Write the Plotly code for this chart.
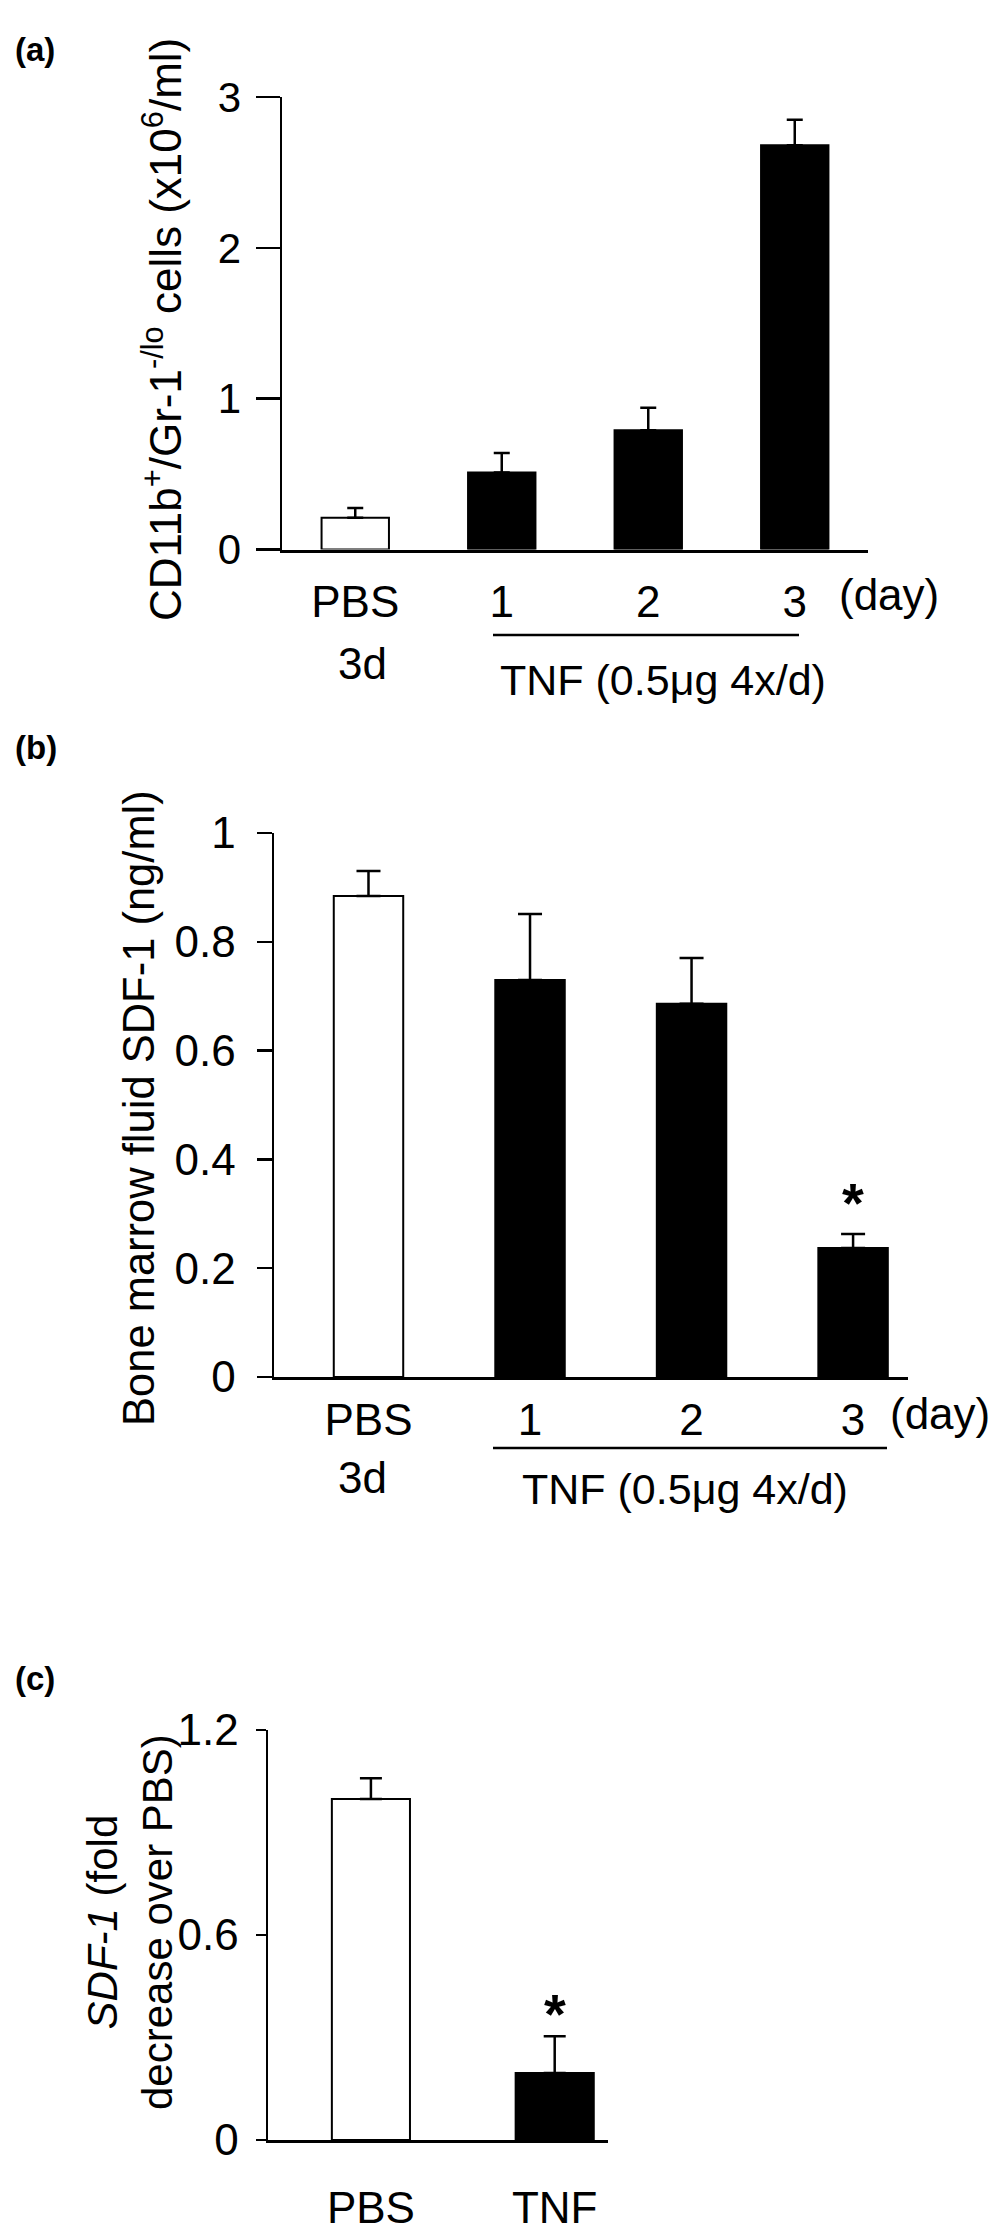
import plotly.graph_objects as go

W, H = 1004, 2236

# ---------------- data ----------------
a_categories = ["PBS", "1", "2", "3"]
a_values = [0.21, 0.51, 0.79, 2.68]
a_errors = [0.065, 0.13, 0.15, 0.17]
a_yticks = [0, 1, 2, 3]
a_yticklabels = ["0", "1", "2", "3"]

b_categories = ["PBS", "1", "2", "3"]
b_values = [0.884, 0.730, 0.686, 0.237]
b_errors = [0.046, 0.121, 0.084, 0.026]
b_significant = [False, False, False, True]
b_yticks = [0, 0.2, 0.4, 0.6, 0.8, 1]
b_yticklabels = ["0", "0.2", "0.4", "0.6", "0.8", "1"]

c_categories = ["PBS", "TNF"]
c_values = [0.998, 0.196]
c_errors = [0.061, 0.108]
c_significant = [False, True]
c_yticks = [0, 0.6, 1.2]
c_yticklabels = ["0", "0.6", "1.2"]

control = "PBS"

FONT = "Liberation Sans, Arial, Helvetica, sans-serif"


def px(x):
    return x / W


def py(y):
    return 1 - y / H


def fills(cats):
    return ["white" if c == control else "black" for c in cats]


fig = go.Figure()

panels = [
    ("x", "y", a_categories, a_values, a_errors, 0.46, 8),
    ("x2", "y2", b_categories, b_values, b_errors, 0.43, 12),
    ("x3", "y3", c_categories, c_values, c_errors, 0.425, 11),
]
for xa, ya, cats, vals, errs, bw, capw in panels:
    fig.add_trace(go.Bar(
        x=cats, y=vals, xaxis=xa, yaxis=ya, width=bw,
        marker=dict(color=fills(cats), line=dict(color="black", width=2)),
        error_y=dict(type="data", array=errs, arrayminus=[0] * len(errs),
                     symmetric=False, color="black", thickness=2.5, width=capw),
        showlegend=False, hoverinfo="skip",
    ))

common_x = dict(type="category", showline=True, linecolor="black",
                ticks="", showgrid=False, zeroline=False, automargin=False,
                tickfont=dict(family=FONT, size=44, color="black"))
common_y = dict(showline=True, linecolor="black", ticks="outside",
                tickcolor="black", tickwidth=2.5, showgrid=False,
                zeroline=False, automargin=False,
                tickfont=dict(family=FONT, color="black"))

fig.update_layout(
    template="none",
    width=W, height=H, autosize=False,
    margin=dict(l=0, r=0, t=0, b=0, pad=0),
    paper_bgcolor="white", plot_bgcolor="white",
    font=dict(family=FONT, color="black"),
    showlegend=False,
    xaxis=dict(common_x, domain=[px(282), px(868)], anchor="y",
               range=[-0.5, 3.5], linewidth=3, ticklabelstandoff=12),
    yaxis=dict(common_y, domain=[py(549.5), py(97)], anchor="x",
               range=[0, 3], tickvals=a_yticks, ticktext=a_yticklabels,
               ticklen=24, linewidth=2.5, ticklabelstandoff=6,
               tickfont=dict(family=FONT, size=42, color="black")),
    xaxis2=dict(common_x, domain=[px(274), px(908)], anchor="y2",
                range=[-0.585, 3.34], linewidth=2.5, ticklabelstandoff=3),
    yaxis2=dict(common_y, domain=[py(1377), py(833)], anchor="x2",
                range=[0, 1], tickvals=b_yticks, ticktext=b_yticklabels,
                ticklen=15, linewidth=2.5, ticklabelstandoff=12,
                tickfont=dict(family=FONT, size=44, color="black")),
    xaxis3=dict(common_x, domain=[px(268), px(608)], anchor="y3",
                range=[-0.56, 1.29], linewidth=3, ticklabelstandoff=27),
    yaxis3=dict(common_y, domain=[py(2140), py(1730)], anchor="x3",
                range=[0, 1.2], tickvals=c_yticks, ticktext=c_yticklabels,
                ticklen=10, linewidth=2.5, ticklabelstandoff=8,
                tickfont=dict(family=FONT, size=44, color="black")),
)

ann = []


def text(x, y, s, size=42, xanchor="center", yanchor="middle", angle=0,
         bold=False):
    ann.append(dict(x=px(x), y=py(y), xref="paper", yref="paper", text=s,
                    showarrow=False, xanchor=xanchor, yanchor=yanchor,
                    textangle=angle,
                    font=dict(family=FONT, size=size, color="black",
                              weight="bold" if bold else "normal")))


# panel letters
text(13, 50, "(a)", size=33, xanchor="left", bold=True)
text(13, 747, "(b)", size=33, xanchor="left", bold=True)
text(13, 1678, "(c)", size=33, xanchor="left", bold=True)

# y-axis titles
text(162, 330, "CD11b<sup>+</sup>/Gr-1<sup>-/lo</sup> cells (x10<sup>6</sup>/ml)",
     size=44, angle=-90)
text(139, 1108, "Bone marrow fluid SDF-1 (ng/ml)", size=43.5, angle=-90)
text(130, 1922, "<i>SDF-1</i> (fold<br>decrease over PBS)", size=42, angle=-90)

# panel (a) extra labels
text(837, 594, "(day)", size=44, xanchor="left")
text(362, 663, "3d", size=44)
text(498, 680, "TNF (0.5μg 4x/d)", size=43, xanchor="left")

# panel (b) extra labels
text(888, 1413, "(day)", size=44, xanchor="left")
text(362, 1477, "3d", size=44)
text(520, 1489, "TNF (0.5μg 4x/d)", size=43, xanchor="left")

# significance stars anchored to data
for cats, vals, errs, sig, xr, yr, shift in [
    (b_categories, b_values, b_errors, b_significant, "x2", "y2", -2),
    (c_categories, c_values, c_errors, c_significant, "x3", "y3", -11),
]:
    for c, v, e, s in zip(cats, vals, errs, sig):
        if s:
            ann.append(dict(x=c, y=v + e, xref=xr, yref=yr, text="*",
                            showarrow=False, xanchor="center",
                            yanchor="bottom", yshift=shift,
                            font=dict(family=FONT, size=56, color="black",
                                      weight="bold")))

fig.update_layout(annotations=ann)

# treatment brackets
fig.add_shape(type="line", xref="paper", yref="paper",
              x0=px(493), x1=px(799), y0=py(635), y1=py(635),
              line=dict(color="black", width=2.5))
fig.add_shape(type="line", xref="paper", yref="paper",
              x0=px(493), x1=px(887), y0=py(1448), y1=py(1448),
              line=dict(color="black", width=2.5))

fig.write_html("out.html",
               config={"displayModeBar": False, "staticPlot": True},
               post_script="document.body.style.margin='0px';"
                           "document.body.style.overflow='hidden';")
